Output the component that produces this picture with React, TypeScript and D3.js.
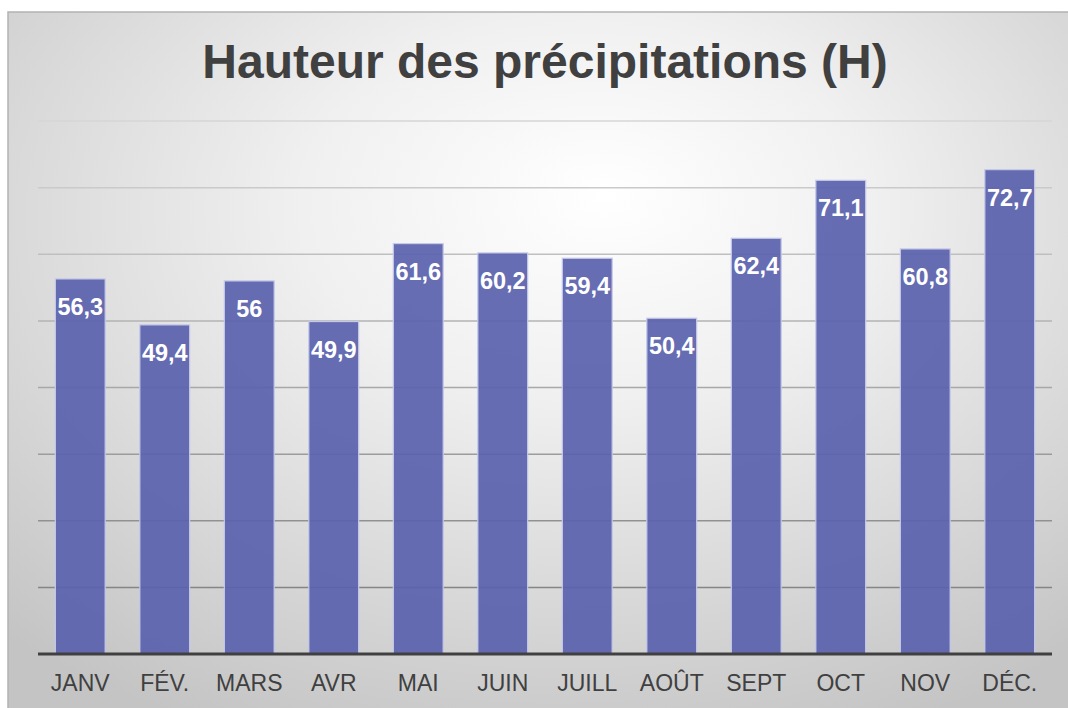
import React from "react";
import * as d3 from "d3";

const months = ["JANV", "FÉV.", "MARS", "AVR", "MAI", "JUIN", "JUILL", "AOÛT", "SEPT", "OCT", "NOV", "DÉC."];
const values = [56.3, 49.4, 56, 49.9, 61.6, 60.2, 59.4, 50.4, 62.4, 71.1, 60.8, 72.7];
const gridTicks = [10, 20, 30, 40, 50, 60, 70, 80];
const title = "Hauteur des précipitations (H)";

const W = 1068;
const H = 708;
const plot = { left: 38, right: 1052, top: 121, bottom: 654 };

export default function App() {
  const x = d3.scaleBand<string>().domain(months).range([plot.left, plot.right]).paddingInner(0.41).paddingOuter(0.205);
  const y = d3.scaleLinear().domain([0, 80]).range([plot.bottom, plot.top]);
  const gridColor = d3.interpolateRgb("#d6d6d6", "#858585");
  const fmt = (v: number) => String(v).replace(".", ",");
  const font = "'Liberation Sans', Arial, sans-serif";

  return (
    <svg width={W} height={H} style={{ position: "fixed", left: 0, top: 0, display: "block" }}>
      <defs>
        <radialGradient id="bg" cx="50%" cy="30%" r="75%" fx="55%" fy="25%">
          <stop offset="0%" stopColor="#ffffff" />
          <stop offset="35%" stopColor="#f0f0f0" />
          <stop offset="100%" stopColor="#c4c4c4" />
        </radialGradient>
      </defs>
      <rect x={0} y={0} width={W} height={H} fill="#ffffff" />
      <rect x={8} y={12} width={W + 20} height={H + 20} fill="url(#bg)" stroke="#b3b3b3" strokeWidth={1.5} />
      <text x={545} y={78} textAnchor="middle" fontFamily={font} fontWeight="bold" fontSize={48} fill="#404040">
        {title}
      </text>
      {gridTicks.map((t, i) => (
        <line key={t} x1={plot.left} x2={plot.right} y1={y(t)} y2={y(t)} stroke={gridColor(1 - i / (gridTicks.length - 1))} strokeWidth={1.5} />
      ))}
      {months.map((m, i) => (
        <rect
          key={m}
          x={x(m)}
          y={y(values[i])}
          width={x.bandwidth()}
          height={y(0) - y(values[i])}
          fill="#5a62ad"
          fillOpacity={0.93}
          stroke="#c6cae9"
          strokeWidth={1.2}
        />
      ))}
      <line x1={plot.left} x2={plot.right} y1={y(0)} y2={y(0)} stroke="#404040" strokeWidth={3} />
      {months.map((m, i) => (
        <text
          key={m}
          x={(x(m) as number) + x.bandwidth() / 2}
          y={y(values[i]) + 36}
          textAnchor="middle"
          fontFamily={font}
          fontWeight="bold"
          fontSize={23.5}
          fill="#ffffff"
        >
          {fmt(values[i])}
        </text>
      ))}
      {months.map((m) => (
        <text key={m} x={(x(m) as number) + x.bandwidth() / 2} y={691} textAnchor="middle" fontFamily={font} fontSize={23} fill="#404040">
          {m}
        </text>
      ))}
    </svg>
  );
}
